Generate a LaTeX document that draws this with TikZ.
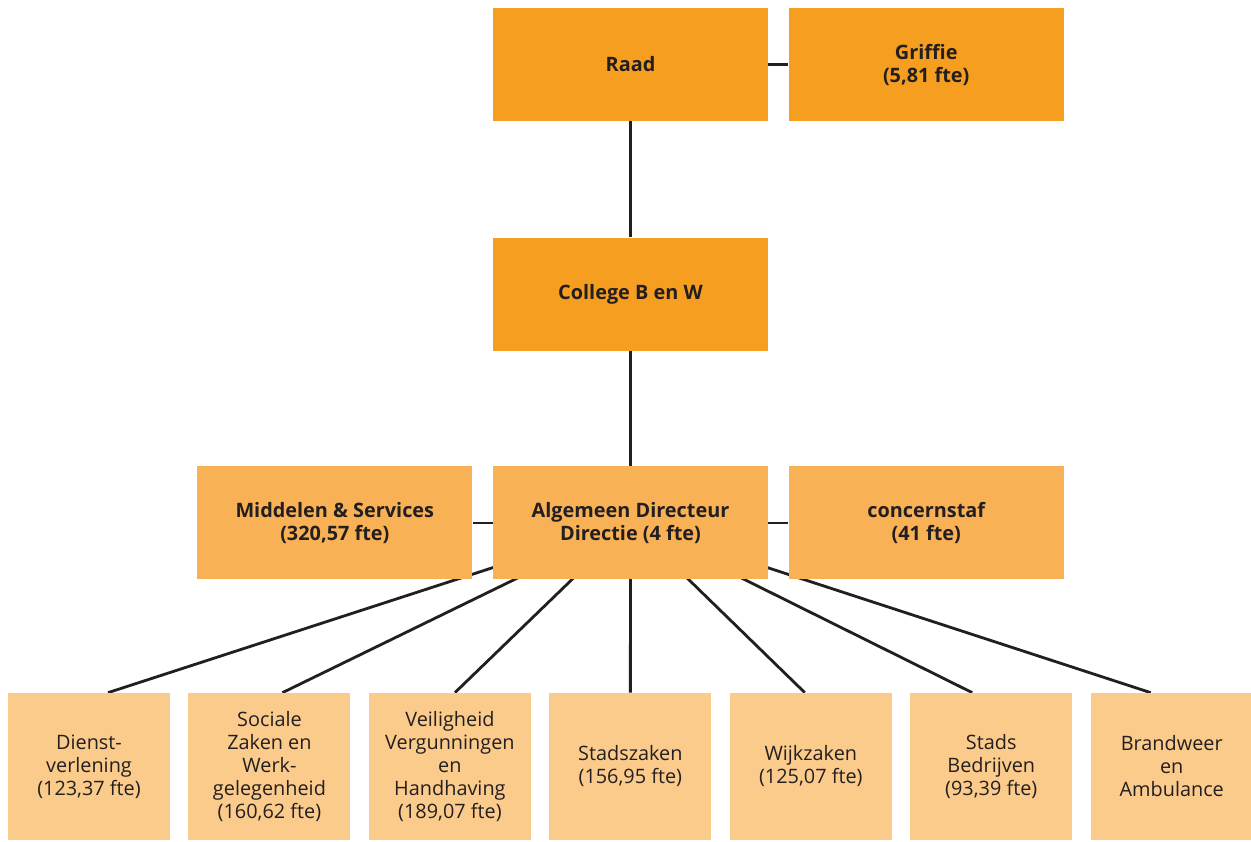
\documentclass[tikz,border=0pt]{standalone}
\usepackage{fontspec}
\setmainfont{Open Sans}
\usetikzlibrary{positioning, backgrounds}

\definecolor{toporange}{HTML}{F69E1F}
\definecolor{midorange}{HTML}{F9B155}
\definecolor{loworange}{HTML}{FBCB8C}
\definecolor{inkgrey}{HTML}{231F20}

\begin{document}
\begin{tikzpicture}[
    node distance=2.3cm and 0.4cm,
    topbox/.style = {rectangle, fill=toporange, align=center, minimum width=5.5cm, minimum height=2.26cm, inner sep=0pt, font=\fontsize{11.3}{13.1}\selectfont\bfseries, text=inkgrey},
    midbox/.style = {topbox, fill=midorange},
    unitbox/.style = {rectangle, fill=loworange, align=center, minimum width=3.24cm, minimum height=2.94cm, inner sep=0pt, font=\fontsize{11.3}{13.1}\selectfont, text=inkgrey},
    link/.style = {draw=inkgrey, line width=1.6pt}
]
\useasboundingbox (0,0) rectangle (25.02,-16.82);

% Bestuur
\node[topbox] (raad) at (12.61,-1.29) {Raad};
\node[topbox, right=0.4cm of raad] (griffie) {Griffie\\(5,81 fte)};
\node[topbox, below=2.32cm of raad] (college) {College B en W};

% Directie en staf
\node[midbox, below=of college] (directie) {Algemeen Directeur\\Directie (4 fte)};
\node[midbox, left=of directie] (middelen) {Middelen \& Services\\(320,57 fte)};
\node[midbox, right=of directie] (staf) {concernstaf\\(41 fte)};

% Diensten
\node[unitbox] (dienst) at (1.78,-15.33) {Dienst-\\verlening\\(123,37 fte)};
\node[unitbox, right=0.355cm of dienst] (szw) {Sociale\\Zaken en\\Werk-\\gelegenheid\\(160,62 fte)};
\node[unitbox, right=0.355cm of szw] (vvh) {Veiligheid\\Vergunningen\\en\\Handhaving\\(189,07 fte)};
\node[unitbox, right=0.355cm of vvh] (stad) {Stadszaken\\(156,95 fte)};
\node[unitbox, right=0.355cm of stad] (wijk) {Wijkzaken\\(125,07 fte)};
\node[unitbox, right=0.355cm of wijk] (bedrijven) {Stads\\Bedrijven\\(93,39 fte)};
\node[unitbox, right=0.355cm of bedrijven] (brandweer) {Brandweer\\en\\Ambulance};

% Lijnen achter de vlakken
\begin{scope}[on background layer]
\draw[link] (raad) -- (griffie);
\draw[link] (raad) -- (college);
\draw[link] (college) -- (directie);
\draw[link] (middelen) -- (staf);
\foreach \unit/\dx in {dienst/0.38, szw/0.26, vvh/0.1, stad/0, wijk/-0.12, bedrijven/-0.38, brandweer/-0.42}
    \draw[link] (directie.center) -- ([xshift=\dx cm]\unit.north);
\end{scope}

\end{tikzpicture}
\end{document}
